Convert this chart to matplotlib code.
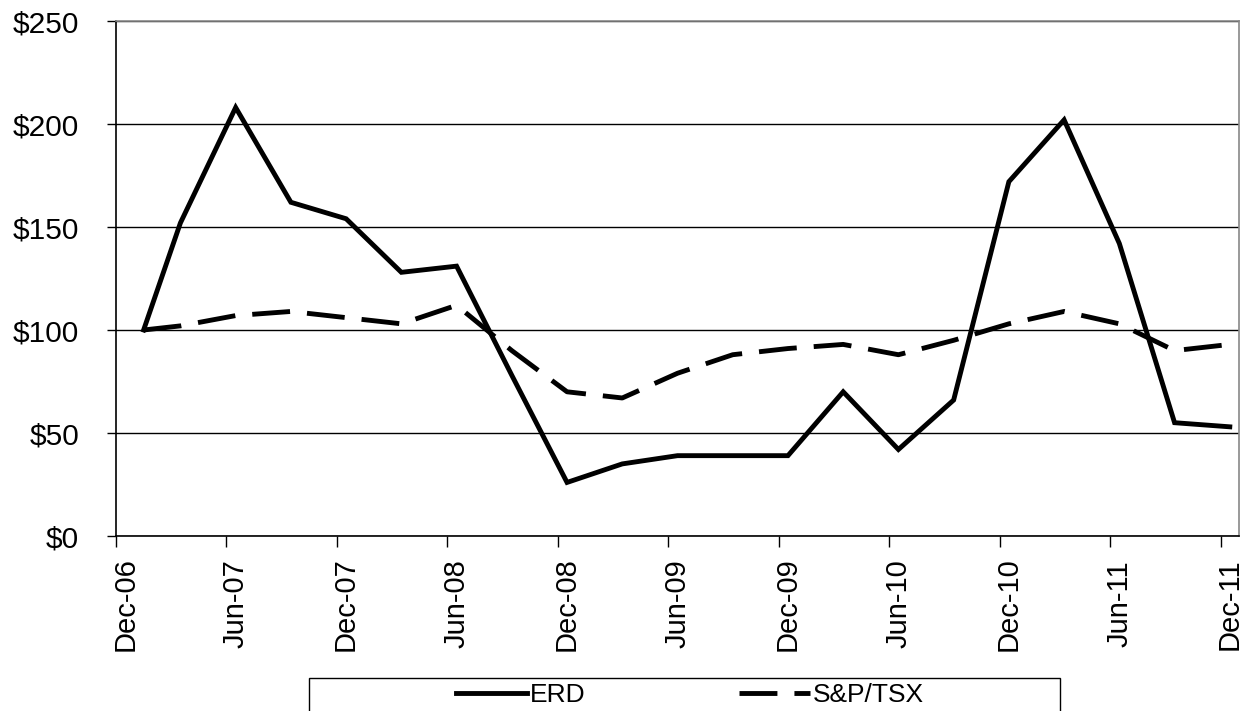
import matplotlib.pyplot as plt
import pandas as pd
from matplotlib.patches import Rectangle

plt.rcParams['font.family'] = ['Liberation Sans', 'DejaVu Sans']

# quarterly index values (Jan-07 = $100)
dates = ["Jan-07", "Mar-07", "Jun-07", "Sep-07", "Dec-07", "Mar-08", "Jun-08",
         "Sep-08", "Dec-08", "Mar-09", "Jun-09", "Sep-09", "Dec-09", "Mar-10",
         "Jun-10", "Sep-10", "Dec-10", "Mar-11", "Jun-11", "Sep-11", "Dec-11"]
erd = [100, 152, 208, 162, 154, 128, 131, 78, 26, 35, 39, 39, 39, 70,
       42, 66, 172, 202, 142, 55, 53]
tsx = [100, 102, 107, 109, 106, 103, 112, 90, 70, 67, 79, 88, 91, 93,
       88, 95, 103, 109, 103, 90, 93]

tick_labels = ["Dec-06", "Jun-07", "Dec-07", "Jun-08", "Dec-08", "Jun-09",
               "Dec-09", "Jun-10", "Dec-10", "Jun-11", "Dec-11"]
y_ticks = [0, 50, 100, 150, 200, 250]


def month_index(labels):
    d = pd.to_datetime(labels, format="%b-%y")
    return [(x.year - 2006) * 12 + x.month - 12 for x in d]


x_data = [m + 0.5 for m in month_index(dates)]    # centred in the month slot
x_ticks = month_index(tick_labels)

fig = plt.figure(figsize=(12.44, 7.11), dpi=100)
ax = fig.add_axes([116 / 1244, 1 - 536 / 711, 1123 / 1244, 515 / 711])

l1, = ax.plot(x_data, erd, color='black', lw=3.5, label='ERD',
              solid_joinstyle='miter')
l2, = ax.plot(x_data, tsx, color='black', lw=3.5, dashes=(7.8, 3.5),
              label='S&P/TSX')

ax.set_xlim(0, 61)
ax.set_ylim(0, 250)

ax.set_yticks(y_ticks)
ax.set_yticklabels(["$%d" % v for v in y_ticks], fontsize=21.5)
ax.tick_params(axis='y', length=6.5, width=1, pad=20, color='black')
ax.yaxis.grid(True, color='black', lw=1)
ax.set_axisbelow(True)

# tick marks at month starts, labels centred in the month slot
ax.set_xticks(x_ticks, minor=True)
ax.set_xticks([m + 0.5 for m in x_ticks])
ax.set_xticklabels(tick_labels, rotation=90, fontsize=21, va='center')
ax.tick_params(axis='x', which='major', length=0, pad=49)
ax.tick_params(axis='x', which='minor', length=8, width=1, color='black')

ax.spines['left'].set_color('black')
ax.spines['bottom'].set_color('black')
ax.spines['top'].set_color('#888888')
ax.spines['right'].set_color('#888888')
for s in ax.spines.values():
    s.set_linewidth(1.2)

fig.patches.append(Rectangle((309 / 1244, -0.02), 751 / 1244, 33 / 711 + 0.02,
                             transform=fig.transFigure, fill=False,
                             edgecolor='black', lw=1))
fig.legend(handles=[l1, l2], loc='center', bbox_to_anchor=(690 / 1244, 1 - 695 / 711),
           ncol=2, frameon=False, fontsize=19, handlelength=2.7,
           handletextpad=0.1, columnspacing=5.8)

fig.savefig('out.png', dpi=100)
